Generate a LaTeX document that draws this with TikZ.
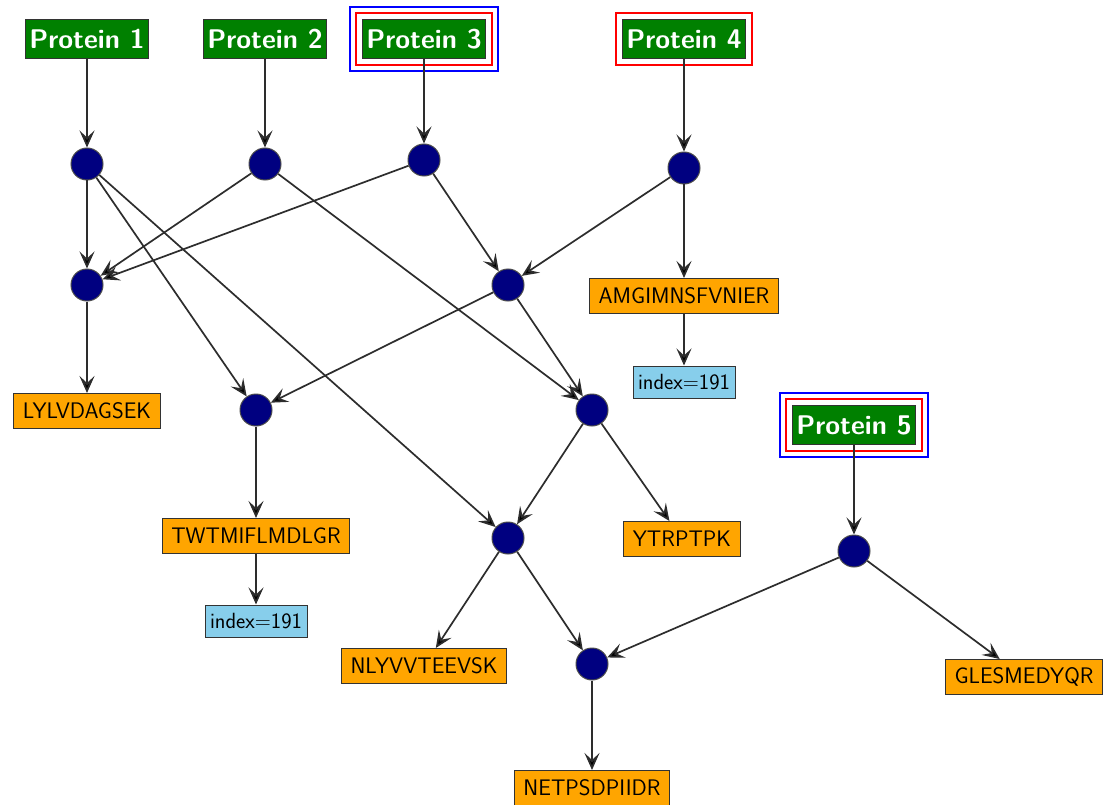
\documentclass[tikz,border=0pt]{standalone}
\usetikzlibrary{arrows.meta}
\definecolor{protgreen}{RGB}{0,128,0}
\definecolor{pepnavy}{RGB}{0,0,128}
\definecolor{peporange}{RGB}{255,165,0}
\definecolor{idxblue}{RGB}{135,206,235}
\definecolor{edgegray}{RGB}{45,45,45}
\tikzset{
  protein/.style={draw=black!80, line width=1pt, fill=protgreen, text=white,
    font=\sffamily\bfseries\fontsize{27}{31}\selectfont,
    inner xsep=4pt, inner ysep=0pt, minimum height=39pt},
  junction/.style={circle, draw=black!70, line width=1pt, fill=pepnavy,
    minimum size=32pt, inner sep=0pt},
  peptide/.style={draw=black!80, line width=1pt, fill=peporange,
    font=\sffamily\fontsize{22.5}{26}\selectfont,
    inner xsep=9pt, inner ysep=0pt, minimum height=35pt},
  indexbox/.style={draw=black!80, line width=1pt, fill=idxblue,
    font=\sffamily\fontsize{22}{26}\selectfont,
    inner xsep=5pt, inner ysep=0pt, minimum height=32pt},
  link/.style={draw=edgegray, line width=1.7pt,
    -{Stealth[length=17pt, width=15pt, inset=7pt, fill=black]}},
  redframe/.style={draw=red, line width=2.5pt},
  blueframe/.style={draw=blue, line width=2.5pt}
}
\begin{document}
\begin{tikzpicture}[x=1pt, y=-1pt]
\clip (0,0) rectangle (1105,805);
\fill[white] (0,0) rectangle (1105,805);

% proteins
\node[protein] (p1) at (87,39) {Protein 1};
\node[protein] (p2) at (265,39) {Protein 2};
\node[protein] (p3) at (424,39) {Protein 3};
\node[protein] (p4) at (684,39) {Protein 4};
\node[protein] (p5) at (854,425) {Protein 5};

% frames around highlighted proteins
\draw[redframe] ([shift={(-6,6)}]p3.south west) rectangle ([shift={(6,-6)}]p3.north east);
\draw[blueframe] ([shift={(-12,12)}]p3.south west) rectangle ([shift={(12,-12)}]p3.north east);
\draw[redframe] ([shift={(-6,6)}]p4.south west) rectangle ([shift={(6,-6)}]p4.north east);
\draw[redframe] ([shift={(-6,6)}]p5.south west) rectangle ([shift={(6,-6)}]p5.north east);
\draw[blueframe] ([shift={(-12,12)}]p5.south west) rectangle ([shift={(12,-12)}]p5.north east);

% junctions
\node[junction] (c1) at (87,164) {};
\node[junction] (c2) at (265,164) {};
\node[junction] (c3) at (424,160) {};
\node[junction] (c4) at (684,168) {};
\node[junction] (c5) at (87,285) {};
\node[junction] (c6) at (508,285) {};
\node[junction] (c7) at (256,410) {};
\node[junction] (c8) at (592,410) {};
\node[junction] (c9) at (508,538) {};
\node[junction] (c10) at (854,551) {};
\node[junction] (c11) at (592,664) {};

% peptides
\node[peptide] (lylv) at (87,411) {LYLVDAGSEK};
\node[peptide] (amgi) at (684,296) {AMGIMNSFVNIER};
\node[indexbox] (ia) at (684,382) {index=191};
\node[peptide] (twtm) at (256,536) {TWTMIFLMDLGR};
\node[indexbox] (ib) at (256,621) {index=191};
\node[peptide] (ytrp) at (682,539) {YTRPTPK};
\node[peptide] (nlyv) at (424,666) {NLYVVTEEVSK};
\node[peptide] (gles) at (1024,677) {GLESMEDYQR};
\node[peptide] (netp) at (592,788) {NETPSDPIIDR};

% connectors
\draw[link] (p1) -- (c1);
\draw[link] (p2) -- (c2);
\draw[link] (p3) -- (c3);
\draw[link] (p4) -- (c4);
\draw[link] (p5) -- (c10);
\draw[link] (c1) -- (c5);
\draw[link] (c1) -- (c7);
\draw[link] (c1) -- (c9);
\draw[link] (c2) -- (c5);
\draw[link] (c2) -- (c8);
\draw[link] (c3) -- (c5);
\draw[link] (c3) -- (c6);
\draw[link] (c4) -- (c6);
\draw[link] (c4) -- (amgi);
\draw[link] (c5) -- (lylv);
\draw[link] (c6) -- (c7);
\draw[link] (c6) -- (c8);
\draw[link] (c7) -- (twtm);
\draw[link] (c8) -- (c9);
\draw[link] (c8) -- (ytrp);
\draw[link] (c9) -- (nlyv);
\draw[link] (c9) -- (c11);
\draw[link] (c10) -- (c11);
\draw[link] (c10) -- (gles);
\draw[link] (c11) -- (netp);
\draw[link] (amgi) -- (ia);
\draw[link] (twtm) -- (ib);
\end{tikzpicture}
\end{document}
